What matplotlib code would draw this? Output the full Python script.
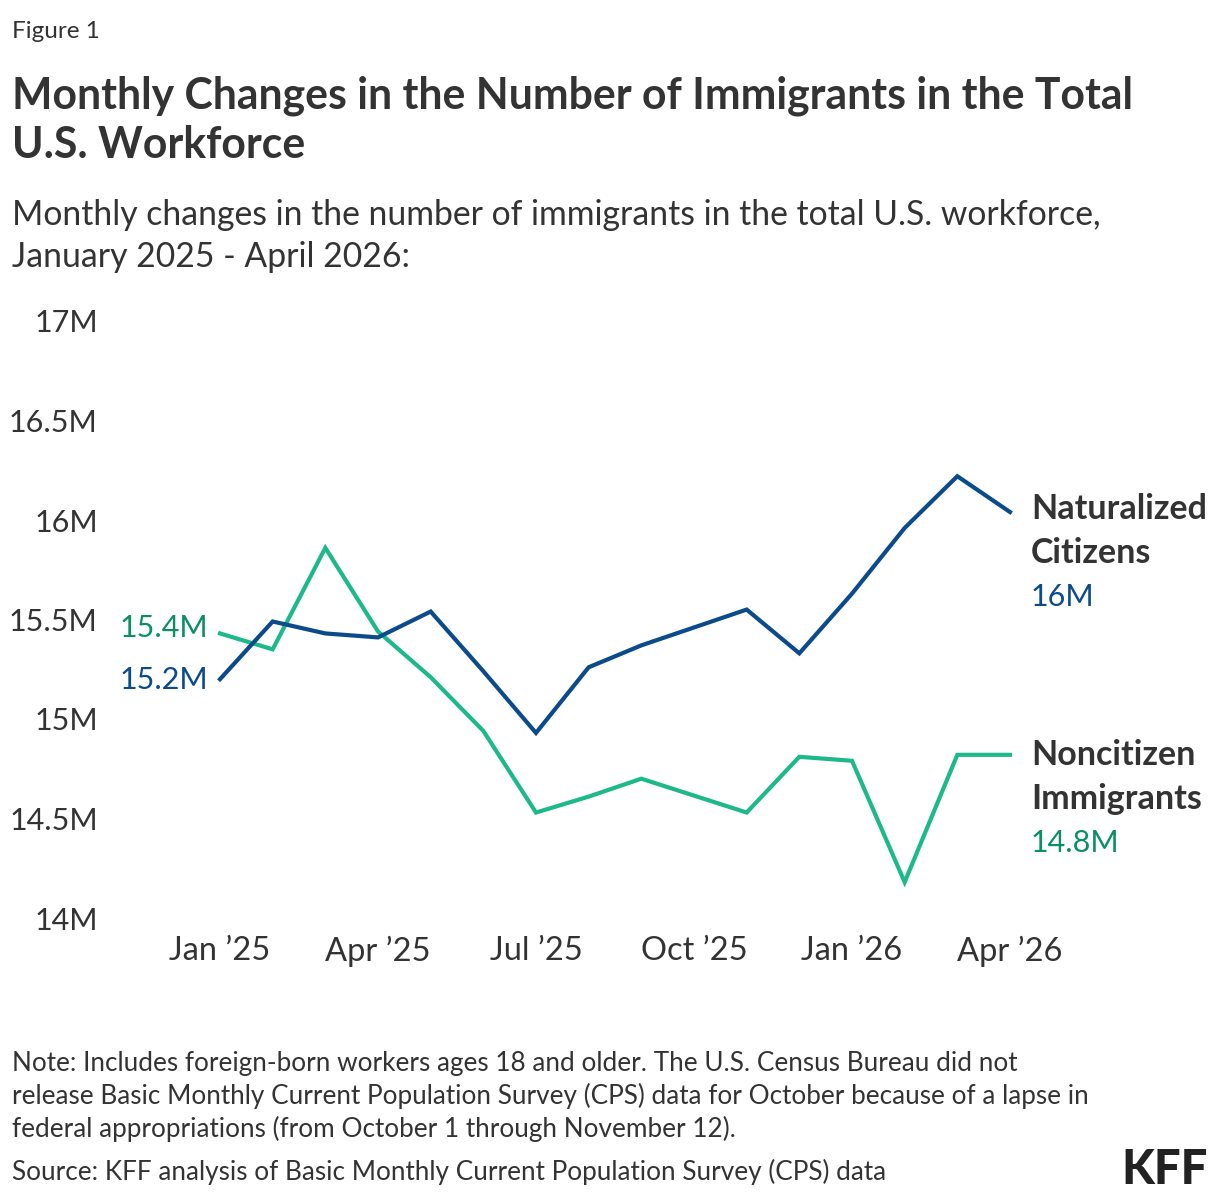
import numpy as np
import matplotlib.pyplot as plt

# Monthly values, Jan 2025 - Apr 2026 (millions); no CPS data for Oct 2025
months = ["Jan '25", "Feb '25", "Mar '25", "Apr '25", "May '25", "Jun '25",
          "Jul '25", "Aug '25", "Sep '25", "Oct '25", "Nov '25", "Dec '25",
          "Jan '26", "Feb '26", "Mar '26", "Apr '26"]
naturalized = [15.20, 15.49, 15.43, 15.41, 15.54, 15.24, 14.93, 15.26, 15.37,
               np.nan, 15.55, 15.33, 15.63, 15.96, 16.22, 16.04]
noncitizen = [15.43, 15.35, 15.86, 15.44, 15.21, 14.94, 14.53, 14.61, 14.70,
              np.nan, 14.53, 14.81, 14.79, 14.18, 14.82, 14.82]

tick_pos = [0, 3, 6, 9, 12, 15]
tick_labels = ["Jan \u201925", "Apr \u201925", "Jul \u201925", "Oct \u201925", "Jan \u201926", "Apr \u201926"]
y_ticks = [14, 14.5, 15, 15.5, 16, 16.5, 17]
y_labels = ["14M", "14.5M", "15M", "15.5M", "16M", "16.5M", "17M"]

navy = "#0b4a8b"
green = "#1db98b"
green_text = "#0b8f63"
dark = "#333333"

plt.rcParams["font.family"] = ["Lato", "DejaVu Sans"]

fig = plt.figure(figsize=(12.2, 12), dpi=100)
ax = fig.add_axes([220 / 1220, 1 - 918 / 1200, 790 / 1220, 597 / 1200])

x = np.arange(len(months))
nat = np.array(naturalized)
non = np.array(noncitizen)
m1 = ~np.isnan(nat)
m2 = ~np.isnan(non)
ax.plot(x[m2], non[m2], color=green, lw=3, solid_joinstyle="miter", clip_on=False)
ax.plot(x[m1], nat[m1], color=navy, lw=3, solid_joinstyle="miter", clip_on=False)

ax.set_xlim(0, 15)
ax.set_ylim(14, 17)
ax.set_xticks(tick_pos)
ax.set_xticklabels(tick_labels)
ax.set_yticks(y_ticks)
ax.set_yticklabels(y_labels)
ax.tick_params(axis="y", length=0, pad=88, labelsize=22, labelcolor=dark)
ax.tick_params(axis="x", length=0, pad=13, labelsize=23.5, labelcolor=dark)
for s in ax.spines.values():
    s.set_visible(False)

# start labels
ax.annotate("15.4M", (0, non[0]), xytext=(-12, 5), textcoords="offset pixels",
            ha="right", va="center", fontsize=22, color=green_text)
ax.annotate("15.2M", (0, nat[0]), xytext=(-12, -1), textcoords="offset pixels",
            ha="right", va="center", fontsize=22, color=navy)

# end labels
def end_label(y, name1, name2, value, color, dy):
    ax.annotate(name1, (15, y), xytext=(21, dy), textcoords="offset pixels",
                ha="left", va="center", fontsize=24.5, fontweight="bold", color=dark,
                annotation_clip=False)
    ax.annotate(name2, (15, y), xytext=(21, dy - 44), textcoords="offset pixels",
                ha="left", va="center", fontsize=24.5, fontweight="bold", color=dark,
                annotation_clip=False)
    ax.annotate(value, (15, y), xytext=(21, dy - 88), textcoords="offset pixels",
                ha="left", va="center", fontsize=22, color=color, annotation_clip=False)


end_label(nat[-1], "Naturalized", "Citizens", "16M", navy, 3)
end_label(non[-1], "Noncitizen", "Immigrants", "14.8M", green_text, 0)

# header
fig.text(12 / 1220, 1 - 38 / 1200, "Figure 1", fontsize=17.5, color=dark, va="baseline")
fig.text(12 / 1220, 1 - 108 / 1200, "Monthly Changes in the Number of Immigrants in the Total",
         fontsize=30.8, fontweight="bold", color=dark, va="baseline")
fig.text(12 / 1220, 1 - 158 / 1200, "U.S. Workforce",
         fontsize=30.8, fontweight="bold", color=dark, va="baseline")
fig.text(12 / 1220, 1 - 225 / 1200,
         "Monthly changes in the number of immigrants in the total U.S. workforce,",
         fontsize=24.3, color=dark, va="baseline")
fig.text(12 / 1220, 1 - 267 / 1200, "January 2025 - April 2026:",
         fontsize=24.3, color=dark, va="baseline")

# footer
notes = ["Note: Includes foreign-born workers ages 18 and older. The U.S. Census Bureau did not",
         "release Basic Monthly Current Population Survey (CPS) data for October because of a lapse in",
         "federal appropriations (from October 1 through November 12)."]
for i, line in enumerate(notes):
    fig.text(12 / 1220, 1 - (1071 + i * 33) / 1200, line, fontsize=18.8, color=dark, va="baseline")
fig.text(12 / 1220, 1 - 1180 / 1200,
         "Source: KFF analysis of Basic Monthly Current Population Survey (CPS) data",
         fontsize=18.8, color=dark, va="baseline")
fig.text(1208 / 1220, 1 - 1184 / 1200, "KFF", fontsize=34, fontweight="black",
         color="#222222", ha="right", va="baseline")

fig.savefig("out.png", dpi=100)
